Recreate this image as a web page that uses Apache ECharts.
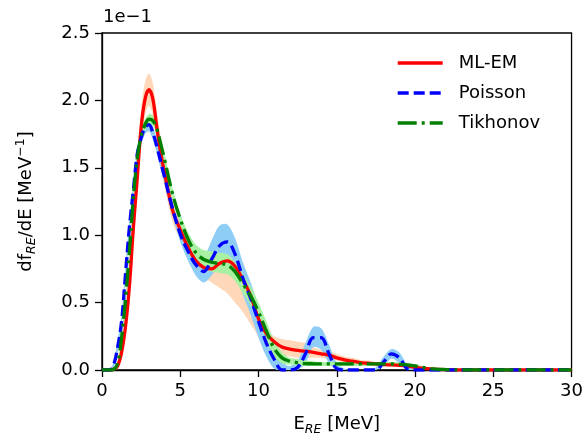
<!DOCTYPE html>
<html>
<head>
<meta charset="utf-8">
<script src="https://cdn.jsdelivr.net/npm/echarts@6/dist/echarts.min.js"></script>
<style>
html,body{margin:0;padding:0;background:#fff;}
#c{width:586px;height:443px;}
</style>
</head>
<body>
<div id="c"></div>
<script>
// Energy grid [MeV]
const energy = [0, 0.5, 0.75, 1.0, 1.25, 1.5, 1.75, 2.0, 2.25, 2.5, 2.75, 3.0, 3.25, 3.5, 3.75, 4.0, 4.5, 5.0, 5.5, 6.0, 6.5, 7.0, 7.5, 8.0, 8.5, 9.0, 9.5, 10, 10.5, 11, 11.5, 12, 12.5, 13, 13.5, 14, 14.5, 15, 15.5, 16, 16.5, 17, 17.5, 18, 18.5, 19, 19.5, 20, 21, 22, 23, 25, 30];

// df/dE values (x 1e-1)
const mlem = [0, 0, 0.005, 0.03, 0.13, 0.32, 0.62, 1.05, 1.42, 1.80, 2.01, 2.08, 2.01, 1.80, 1.61, 1.46, 1.19, 1.04, 0.91, 0.81, 0.76, 0.75, 0.79, 0.81, 0.77, 0.67, 0.55, 0.38, 0.27, 0.21, 0.17, 0.155, 0.145, 0.14, 0.13, 0.12, 0.11, 0.09, 0.075, 0.065, 0.055, 0.05, 0.045, 0.04, 0.038, 0.035, 0.03, 0.02, 0.008, 0.002, 0, 0, 0];
const mlemLo = [0, 0, 0, 0.01, 0.09, 0.25, 0.52, 0.92, 1.30, 1.68, 1.89, 1.96, 1.89, 1.70, 1.50, 1.36, 1.10, 0.96, 0.84, 0.72, 0.68, 0.65, 0.61, 0.57, 0.50, 0.43, 0.34, 0.25, 0.17, 0.12, 0.11, 0.10, 0.09, 0.09, 0.09, 0.09, 0.08, 0.07, 0.055, 0.045, 0.04, 0.035, 0.03, 0.03, 0.028, 0.025, 0.02, 0.012, 0.004, 0, 0, 0, 0];
const mlemHi = [0, 0, 0.01, 0.06, 0.19, 0.42, 0.76, 1.20, 1.56, 1.93, 2.14, 2.20, 2.13, 1.92, 1.73, 1.56, 1.28, 1.11, 0.97, 0.86, 0.80, 0.79, 0.83, 0.85, 0.81, 0.72, 0.60, 0.44, 0.31, 0.25, 0.23, 0.22, 0.21, 0.20, 0.17, 0.15, 0.14, 0.12, 0.10, 0.09, 0.075, 0.07, 0.06, 0.055, 0.05, 0.045, 0.04, 0.03, 0.012, 0.004, 0, 0, 0];

const poisson = [0, 0, 0.04, 0.17, 0.36, 0.71, 1.06, 1.33, 1.60, 1.72, 1.80, 1.82, 1.76, 1.66, 1.545, 1.43, 1.20, 1.01, 0.88, 0.78, 0.73, 0.82, 0.92, 0.95, 0.86, 0.68, 0.53, 0.36, 0.20, 0.08, 0, 0, 0.02, 0.12, 0.24, 0.24, 0.12, 0.01, 0, 0, 0, 0, 0, 0.06, 0.12, 0.09, 0.01, 0, 0, 0, 0, 0, 0];
const poissonLo = [0, 0, 0.02, 0.13, 0.31, 0.66, 1.01, 1.28, 1.55, 1.67, 1.75, 1.77, 1.71, 1.61, 1.49, 1.38, 1.15, 0.95, 0.81, 0.70, 0.65, 0.70, 0.78, 0.82, 0.74, 0.56, 0.41, 0.24, 0.10, 0.01, 0, 0, 0, 0.05, 0.17, 0.15, 0.05, 0, 0, 0, 0, 0, 0, 0.03, 0.085, 0.05, 0, 0, 0, 0, 0, 0, 0];
const poissonHi = [0, 0, 0.07, 0.22, 0.41, 0.77, 1.11, 1.38, 1.65, 1.77, 1.85, 1.87, 1.81, 1.71, 1.60, 1.49, 1.25, 1.07, 0.94, 0.86, 0.84, 0.96, 1.07, 1.08, 0.98, 0.80, 0.65, 0.48, 0.31, 0.17, 0.06, 0.03, 0.07, 0.20, 0.32, 0.31, 0.19, 0.05, 0.01, 0, 0, 0, 0.02, 0.10, 0.155, 0.13, 0.04, 0, 0, 0, 0, 0, 0];

const tikhonov = [0, 0, 0.005, 0.05, 0.24, 0.52, 0.88, 1.27, 1.57, 1.74, 1.82, 1.86, 1.85, 1.79, 1.68, 1.56, 1.31, 1.12, 0.97, 0.87, 0.82, 0.80, 0.79, 0.78, 0.73, 0.64, 0.55, 0.43, 0.29, 0.16, 0.09, 0.065, 0.055, 0.048, 0.046, 0.045, 0.045, 0.045, 0.045, 0.045, 0.045, 0.045, 0.045, 0.045, 0.045, 0.042, 0.038, 0.03, 0.01, 0.003, 0, 0, 0];
const tikhonovLo = [0, 0, 0, 0.03, 0.20, 0.48, 0.84, 1.23, 1.53, 1.70, 1.78, 1.82, 1.81, 1.75, 1.64, 1.52, 1.27, 1.08, 0.92, 0.81, 0.75, 0.73, 0.72, 0.71, 0.66, 0.57, 0.48, 0.36, 0.22, 0.10, 0.05, 0.04, 0.035, 0.03, 0.03, 0.03, 0.03, 0.03, 0.03, 0.03, 0.03, 0.03, 0.03, 0.03, 0.03, 0.028, 0.025, 0.018, 0.004, 0, 0, 0, 0];
const tikhonovHi = [0, 0, 0.01, 0.07, 0.28, 0.56, 0.92, 1.31, 1.61, 1.78, 1.86, 1.90, 1.89, 1.83, 1.72, 1.60, 1.35, 1.16, 1.02, 0.93, 0.89, 0.88, 0.87, 0.86, 0.80, 0.71, 0.62, 0.50, 0.36, 0.22, 0.13, 0.09, 0.08, 0.07, 0.065, 0.06, 0.06, 0.06, 0.06, 0.06, 0.06, 0.06, 0.06, 0.06, 0.06, 0.057, 0.052, 0.042, 0.016, 0.005, 0, 0, 0];

const xTicks = [0, 5, 10, 15, 20, 25, 30];
const yTicks = ['0.0', '0.5', '1.0', '1.5', '2.0', '2.5'];
const names = ['ML-EM', 'Poisson', 'Tikhonov'];

const FONT = 'DejaVu Sans';
const pairs = arr => energy.map((e, i) => [e, arr[i]]);

function band(lo, hi, color) {
  return {
    type: 'custom', silent: true, z: 1, clip: true,
    data: energy.map((e, i) => [e, lo[i], hi[i]]),
    encode: { x: 0, y: [1, 2] },
    renderItem: function (params, api) {
      if (params.dataIndex !== 0) return null;
      const top = energy.map((e, i) => api.coord([e, hi[i]]));
      const bot = energy.map((e, i) => api.coord([e, lo[i]])).reverse();
      return { type: 'polygon', shape: { points: top.concat(bot), smooth: 0.3 }, style: { fill: color } };
    }
  };
}

const chart = echarts.init(document.getElementById('c'), null, { renderer: 'canvas' });
chart.setOption({
  animation: false,
  backgroundColor: '#ffffff',
  textStyle: { fontFamily: FONT },
  grid: { left: 102, right: 13, top: 33, bottom: 73, show: true, borderColor: '#000', borderWidth: 1.3, backgroundColor: 'transparent' },
  legend: {
    data: names,
    orient: 'vertical',
    left: 391, top: 48,
    itemWidth: 45, itemHeight: 14, itemGap: 10,
    itemStyle: { color: 'transparent', borderWidth: 0, opacity: 0 },
    lineStyle: { width: 3.4 },
    textStyle: { fontFamily: FONT, fontSize: 18, color: '#000', lineHeight: 20, padding: [0, 0, 0, 11] }
  },
  graphic: [{ type: 'text', left: 103, top: 8, style: { text: '1e\u22121', font: '18px "DejaVu Sans"', fill: '#000' } }],
  xAxis: {
    type: 'value', min: 0, max: 30, interval: 5,
    name: '{n|E}{s|RE}{n| [MeV]}', nameLocation: 'middle', nameGap: 42,
    nameTextStyle: { rich: {
      n: { fontSize: 18, fontFamily: FONT, color: '#000', lineHeight: 24 },
      s: { fontSize: 12.5, fontFamily: FONT, fontStyle: 'italic', color: '#000', lineHeight: 12, verticalAlign: 'bottom' }
    } },
    axisLine: { onZero: false, lineStyle: { color: '#000', width: 1.3 } },
    axisTick: { inside: false, length: 7, lineStyle: { color: '#000', width: 1.3 } },
    axisLabel: { margin: 12, fontSize: 18, fontFamily: FONT, color: '#000',
      formatter: v => String(xTicks[xTicks.indexOf(v)]) },
    splitLine: { show: false }
  },
  yAxis: {
    type: 'value', min: 0, max: 2.5, interval: 0.5,
    name: '{n|df}{s|RE}{n|/dE [MeV}{p|\u22121}{n|]}', nameLocation: 'middle', nameGap: 64, nameRotate: 90,
    nameTextStyle: { rich: {
      n: { fontSize: 18, fontFamily: FONT, color: '#000', lineHeight: 24 },
      s: { fontSize: 12.5, fontFamily: FONT, fontStyle: 'italic', color: '#000', lineHeight: 12, verticalAlign: 'bottom' },
      p: { fontSize: 12.5, fontFamily: FONT, color: '#000', lineHeight: 12, verticalAlign: 'top' }
    } },
    axisLine: { onZero: false, lineStyle: { color: '#000', width: 1.3 } },
    axisTick: { inside: false, length: 7, lineStyle: { color: '#000', width: 1.3 } },
    axisLabel: { margin: 12, fontSize: 18, fontFamily: FONT, color: '#000',
      formatter: v => yTicks[Math.round(v / 0.5)] },
    splitLine: { show: false }
  },
  series: [
    band(mlemLo, mlemHi, '#fed8b8'),
    band(poissonLo, poissonHi, '#8ecdf5'),
    band(tikhonovLo, tikhonovHi, '#a8f0a2'),
    { name: names[0], type: 'line', data: pairs(mlem), smooth: 0.35, symbol: 'none', z: 3,
      lineStyle: { color: '#ff0000', width: 3.3 }, itemStyle: { color: '#ff0000' } },
    { name: names[1], type: 'line', data: pairs(poisson), smooth: 0.35, symbol: 'none', z: 3,
      lineStyle: { color: '#0000ff', width: 3.3, type: [11, 5] }, itemStyle: { color: '#0000ff' } },
    { name: names[2], type: 'line', data: pairs(tikhonov), smooth: 0.35, symbol: 'none', z: 3,
      lineStyle: { color: '#008000', width: 3.3, type: [19, 5, 3, 5] }, itemStyle: { color: '#008000' } }
  ]
});
</script>
</body>
</html>
